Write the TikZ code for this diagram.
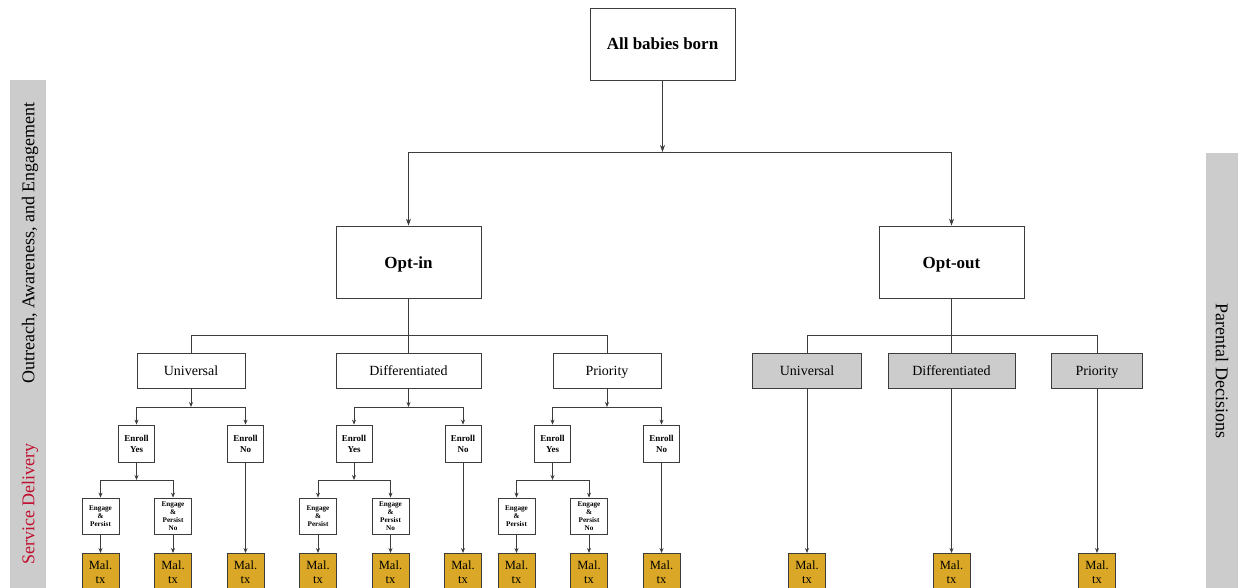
\documentclass[tikz,border=0pt]{standalone}
\usepackage{fontspec}
\setmainfont{Liberation Serif}
\usetikzlibrary{arrows.meta}
\definecolor{bargray}{RGB}{204,204,204}
\definecolor{malgold}{RGB}{218,168,38}
\definecolor{sdred}{RGB}{192,16,48}
\definecolor{edge}{RGB}{60,60,60}
\tikzset{
  box/.style={draw=edge,line width=0.8pt,inner sep=0pt,align=center},
  bigbox/.style={box,minimum width=145pt,minimum height=72pt,text height=13pt,text depth=1pt,font=\fontsize{17}{20}\selectfont\bfseries},
  midbox/.style={box,minimum height=35pt,text height=10pt,text depth=0.5pt,font=\fontsize{14}{16}\selectfont},
  graybox/.style={midbox,fill=bargray},
  enr/.style={box,minimum width=36pt,minimum height=37pt,font=\fontsize{9}{11}\selectfont\bfseries},
  eng/.style={box,minimum width=37pt,minimum height=36pt,font=\fontsize{7.2}{8}\selectfont\bfseries},
  mal/.style={box,fill=malgold,minimum width=37pt,minimum height=37pt,font=\fontsize{12.5}{14}\selectfont},
  conn/.style={draw=edge,line width=0.7pt},
  arr/.style={conn,-{Stealth[length=7pt,width=5pt]}},
  sarr/.style={conn,-{Stealth[length=5pt,width=4pt]}},
  sidetext/.style={font=\fontsize{18}{20}\selectfont,inner sep=0pt}
}
\newcommand\mysub[2]{%
  \coordinate (#1j) at (#2,407);
  \node[enr] (#1ey) at (#2-54.5,443.5) {Enroll\\Yes};
  \node[enr] (#1en) at (#2+54.5,443.5) {Enroll\\No};
  \coordinate (#1k) at (#2-54.5,480);
  \node[eng] (#1ep) at (#2-90.5,516) {Engage\\\&\\Persist};
  \node[eng] (#1epn) at (#2-18,516) {Engage\\\&\\Persist\\No};
  \node[mal,anchor=north] (#1ma) at (#2-90.5,553) {Mal.\\tx};
  \node[mal,anchor=north] (#1mb) at (#2-18,553) {Mal.\\tx};
  \node[mal,anchor=north] (#1mc) at (#2+54.5,553) {Mal.\\tx};
  \draw[sarr] (#1) -- (#1j);
  \draw[sarr] (#1j) -| (#1ey);
  \draw[sarr] (#1j) -| (#1en);
  \draw[sarr] (#1ey) -- (#1k);
  \draw[sarr] (#1k) -| (#1ep);
  \draw[sarr] (#1k) -| (#1epn);
  \draw[sarr] (#1ep) -- (#1ma);
  \draw[sarr] (#1epn) -- (#1mb);
  \draw[sarr] (#1en) -- (#1mc);
}
\begin{document}
\begin{tikzpicture}[x=1pt,y=-1pt]
\useasboundingbox (0,0) rectangle (1238,588);
\clip (0,0) rectangle (1238,588);
% side bars
\fill[bargray] (10,80) rectangle (46,588);
\fill[bargray] (1206,153) rectangle (1238,588);
\node[sidetext,rotate=90] (sideA) at (30,243) {Outreach, Awareness, and Engagement};
\node[sidetext,rotate=90,text=sdred] (sideB) at (30,504) {Service Delivery};
\node[sidetext,rotate=-90] (sideC) at (1222,371) {Parental Decisions};
% top
\node[bigbox] (all) at (662.5,44) {All babies born};
\node[bigbox] (optin) at (408.5,262) {Opt-in};
\node[bigbox] (optout) at (951.5,262) {Opt-out};
\coordinate (tj) at (662.5,152);
\draw[arr] (all) -- (tj);
\draw[arr] (tj) -| (optin);
\draw[arr] (tj) -| (optout);
% opt-in level
\node[midbox,minimum width=108pt] (u) at (191,370.5) {Universal};
\node[midbox,minimum width=145pt] (d) at (408.5,370.5) {Differentiated};
\node[midbox,minimum width=108pt] (p) at (607,370.5) {Priority};
\coordinate (oj) at (408.5,335);
\draw[conn] (optin) -- (oj);
\draw[conn] (oj) -| (u);
\draw[conn] (oj) -- (d);
\draw[conn] (oj) -| (p);
% opt-out level
\node[graybox,minimum width=109pt] (gu) at (807,370.5) {Universal};
\node[graybox,minimum width=127pt] (gd) at (951.5,370.5) {Differentiated};
\node[graybox,minimum width=91pt] (gp) at (1097,370.5) {Priority};
\coordinate (xj) at (951.5,335);
\draw[conn] (optout) -- (xj);
\draw[conn] (xj) -| (gu);
\draw[conn] (xj) -- (gd);
\draw[conn] (xj) -| (gp);
\node[mal,anchor=north] (gum) at (807,553) {Mal.\\tx};
\node[mal,anchor=north] (gdm) at (951.5,553) {Mal.\\tx};
\node[mal,anchor=north] (gpm) at (1097,553) {Mal.\\tx};
\draw[sarr] (gu) -- (gum);
\draw[sarr] (gd) -- (gdm);
\draw[sarr] (gp) -- (gpm);
% sub-trees of opt-in
\mysub{u}{191}
\mysub{d}{408.5}
\mysub{p}{607}
\end{tikzpicture}
\end{document}
